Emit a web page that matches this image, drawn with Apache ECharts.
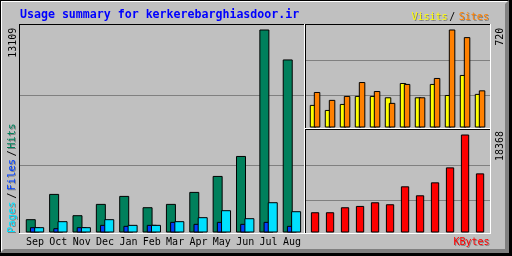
<!DOCTYPE html>
<html><head><meta charset="utf-8">
<script src="https://cdn.jsdelivr.net/npm/echarts@6/dist/echarts.min.js"></script>
<style>html,body{margin:0;padding:0;background:#c0c0c0}#c{width:512px;height:256px}</style>
</head><body><div id="c"></div>
<script>
// ---- data ----
const months = ['Sep','Oct','Nov','Dec','Jan','Feb','Mar','Apr','May','Jun','Jul','Aug'];
const hits   = [860,2493,1117,1848,2364,1633,1848,2622,3653,4943,13109,11175];
const files  = [344,279,344,494,430,494,688,559,688,559,688,430];
const pages  = [344,731,344,860,494,494,731,989,1440,924,1956,1375];
const visits = [166,129,173,232,232,222,327,222,320,239,386,247];
const sites  = [261,203,232,334,268,181,320,222,364,720,664,273];
const kbytes = [3798,3798,4732,4981,5666,5293,8655,6974,9402,12204,18368,11083];
const titleText = 'Usage summary for kerkerebarghiasdoor.ir';
const leftLegend = ['Pages','Files','Hits'];
const topLegend = ['Visits','Sites'];
const kbLabel = 'KBytes';

// ---- chart ----
const maxHits = Math.max(...hits), maxSites = Math.max(...sites), maxKb = Math.max(...kbytes);
const M1 = maxHits * 205 / 203, M2 = maxSites * 100 / 98, M3 = maxKb * 100 / 98;
const MONO = '"DejaVu Sans Mono"';
const BLACK = '#000', WHITE = '#fff', DK = '#808080';

function bgY(i){ return {gridIndex:i, type:'value', min:0, max:3, interval:1,
  axisLine:{show:false}, axisTick:{show:false}, axisLabel:{show:false},
  splitLine:{show:true, showMinLine:false, showMaxLine:false, lineStyle:{color:DK, width:1}}}; }
function bgX(i){ return {gridIndex:i, type:'value', show:false, min:0, max:1}; }
function dataY(i, M){ return {gridIndex:i, type:'value', min:0, max:M, interval:M/3, show:false, splitLine:{show:false}}; }
function dataX(i, showLabels){ return {gridIndex:i, type:'category', data:months, boundaryGap:true,
  axisLine:{show:false}, axisTick:{show:false}, splitLine:{show:false},
  axisLabel:{show:showLabels, interval:0, margin:5, color:'#000', fontFamily:MONO, fontSize:10}}; }
function bar(name, data, gi, color, w, gap){ return {type:'bar', name, data, xAxisIndex:gi, yAxisIndex:gi,
  barWidth:w, barGap:gap, silent:true,
  itemStyle:{color, borderColor:BLACK, borderWidth:1}}; }

function rect(x,y,w,h,fill,z){ return {type:'rect', shape:{x,y,width:w,height:h}, style:{fill}, z:z||50, silent:true}; }
function txt(text,x,y,fill,font,align,rot,shadow){
  const mk = (dx,dy,c)=>({type:'text', x:x+dx, y:y+dy, rotation:rot||0, z:60, silent:true,
    style:{text, x:0, y:0, fill:c, font, align:align||'left', textAlign:align||'left',
      verticalAlign:'middle', textVerticalAlign:'middle'}});
  return shadow ? [mk(1,1,DK), mk(0,0,fill)] : [mk(0,0,fill)];
}
const R = Math.PI/2;
const f10 = '10px ' + MONO, f105 = '10.5px ' + MONO;

const graphics = [
  // outer frame
  rect(0,0,512,1,BLACK,1), rect(0,0,1,256,BLACK,1), rect(509,0,3,256,BLACK,1), rect(0,253,512,3,BLACK,1),
  rect(1,1,508,1,WHITE,1), rect(1,1,1,252,WHITE,1),
  {type:'polygon', shape:{points:[[509,0],[509,253],[0,253],[4,249],[505,249],[505,4]]}, style:{fill:DK}, z:1, silent:true},
  // main panel
  rect(19,24,286,1,BLACK), rect(19,24,1,210,BLACK), rect(304,24,1,210,WHITE), rect(19,233,286,1,WHITE),
  // top-right panel
  rect(305,24,186,1,BLACK), rect(305,24,1,105,BLACK), rect(490,24,1,105,WHITE), rect(305,128,186,1,WHITE),
  // bottom-right panel
  rect(305,129,186,1,BLACK), rect(305,129,1,105,BLACK), rect(490,129,1,105,WHITE), rect(305,233,186,1,WHITE),
  // texts
  ...txt(titleText, 20, 14.8, '#0000ff', 'bold 11.6px ' + MONO),
  ...txt(topLegend[0], 411.5, 17.5, '#ffff00', f10, 'left', 0, true),
  ...txt('/', 449.3, 17.5, BLACK, f10),
  ...txt(topLegend[1], 458.8, 17.5, '#ff8000', f10, 'left', 0, true),
  ...txt(kbLabel, 489.5, 242.6, '#ff0000', f10, 'right', 0, true),
  ...txt(leftLegend[0], 12, 233, '#00e0ff', f105, 'left', R, true),
  ...txt('/', 12, 198.8, BLACK, f105, 'left', R),
  ...txt(leftLegend[1], 12, 190.5, '#0040ff', f105, 'left', R, true),
  ...txt('/', 12, 156.5, BLACK, f105, 'left', R),
  ...txt(leftLegend[2], 12, 148.8, '#00805c', f105, 'left', R, true),
  ...txt(String(maxHits), 13, 27.7, BLACK, f10, 'right', R),
  ...txt(String(maxSites), 500, 27.7, BLACK, f10, 'right', R),
  ...txt(String(maxKb), 500, 131, BLACK, f10, 'right', R)
];

const chart = echarts.init(document.getElementById('c'), null, {renderer:'canvas', width:512, height:256});
chart.setOption({
  animation:false,
  backgroundColor:'#c0c0c0',
  grid:[
    {left:20, top:25, width:284, height:210},
    {left:23.3, top:27.5, width:280.3, height:205},
    {left:306, top:25, width:184, height:105},
    {left:307.55, top:27.5, width:180, height:100},
    {left:306, top:130, width:184, height:105},
    {left:307.55, top:132.5, width:180, height:100}
  ],
  xAxis:[bgX(0), dataX(1,true), bgX(2), dataX(3,false), bgX(4), dataX(5,false)],
  yAxis:[bgY(0), dataY(1,M1), bgY(2), dataY(3,M2), bgY(4), dataY(5,M3)],
  series:[
    bar('Hits', hits, 1, '#00805c', 10, '-58%'),
    bar('Files', files, 1, '#0040ff', 10, '-58%'),
    bar('Pages', pages, 1, '#00e0ff', 10, '-58%'),
    bar('Visits', visits, 3, '#ffff00', 6.5, '-38%'),
    bar('Sites', sites, 3, '#ff8000', 6.5, '-38%'),
    bar('KBytes', kbytes, 5, '#ff0000', 8.3, '0%')
  ],
  graphic:{elements:graphics}
});
</script></body></html>
